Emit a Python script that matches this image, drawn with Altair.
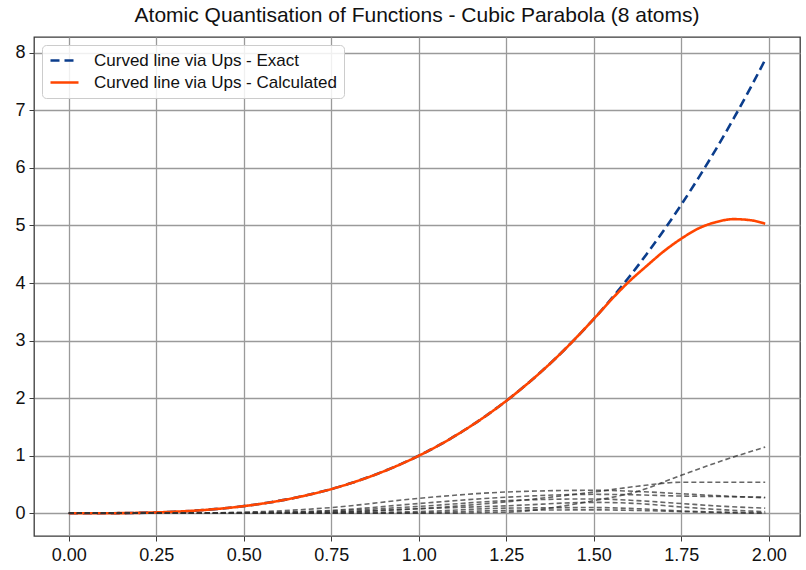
import altair as alt
import pandas as pd

# Main curves, sampled on x
x_main = [0.0, 0.1, 0.2, 0.3, 0.4, 0.5, 0.6, 0.7, 0.8, 0.9, 1.0, 1.1, 1.2, 1.3,
          1.4, 1.5, 1.55, 1.6, 1.65, 1.7, 1.75, 1.8, 1.85, 1.9, 1.95, 1.99]
exact = [0.0, 0.001, 0.008, 0.027, 0.064, 0.125, 0.216, 0.343, 0.512, 0.729, 1.0,
         1.331, 1.728, 2.197, 2.744, 3.375, 3.724, 4.096, 4.492, 4.913, 5.359,
         5.832, 6.332, 6.859, 7.415, 7.880]
calculated = [0.0, 0.001, 0.008, 0.027, 0.064, 0.125, 0.216, 0.343, 0.512, 0.729, 1.0,
              1.331, 1.728, 2.197, 2.744, 3.375, 3.71, 4.02, 4.29, 4.55, 4.77,
              4.95, 5.06, 5.11, 5.09, 5.03]

# Individual atoms, sampled on a coarser x grid
x_atoms = [0.0, 0.25, 0.5, 0.75, 1.0, 1.25, 1.5, 1.625, 1.75, 1.875, 1.99]
atoms = {
    "a1": [0, 0, 0, 0, 0, 0.02, 0.22, 0.38, 0.66, 0.93, 1.15],
    "a2": [0, 0, 0, 0.02, 0.08, 0.20, 0.37, 0.47, 0.54, 0.54, 0.54],
    "a3": [0, 0, 0.02, 0.10, 0.26, 0.37, 0.40, 0.38, 0.34, 0.30, 0.27],
    "a4": [0, 0, 0.01, 0.05, 0.17, 0.28, 0.33, 0.32, 0.30, 0.29, 0.28],
    "a5": [0, 0, 0.01, 0.04, 0.12, 0.22, 0.25, 0.22, 0.17, 0.12, 0.09],
    "a6": [0, 0, 0, 0.02, 0.08, 0.13, 0.19, 0.17, 0.11, 0.06, 0.03],
    "a7": [0, 0, 0, 0.01, 0.03, 0.09, 0.10, 0.08, 0.04, 0.02, 0.01],
    "a8": [0, 0, 0, 0, 0.01, 0.05, 0.06, 0.05, 0.03, 0.01, 0.0],
}

x_ticks = [0.0, 0.25, 0.5, 0.75, 1.0, 1.25, 1.5, 1.75, 2.0]
y_ticks = [0, 1, 2, 3, 4, 5, 6, 7, 8]

lbl_exact = "Curved line via Ups - Exact"
lbl_calc = "Curved line via Ups - Calculated"

main_df = pd.concat([
    pd.DataFrame({"x": x_main, "y": exact, "series": lbl_exact}),
    pd.DataFrame({"x": x_main, "y": calculated, "series": lbl_calc}),
])
atom_df = pd.concat([
    pd.DataFrame({"x": x_atoms, "y": v, "atom": k}) for k, v in atoms.items()
])

FONT = "Liberation Sans"

x_enc = alt.X("x:Q", scale=alt.Scale(domain=[-0.0995, 2.0895], nice=False, zero=False),
              axis=alt.Axis(values=x_ticks, format=".2f", title=None))
y_enc = alt.Y("y:Q", scale=alt.Scale(domain=[-0.394, 8.274], nice=False, zero=False),
              axis=alt.Axis(values=y_ticks, format="d", title=None))

# Legend line sample: a long horizontal stroke from a small symbol size
main = alt.Chart(main_df).mark_line(strokeWidth=2.6, interpolate="monotone").encode(
    x=x_enc,
    y=y_enc,
    color=alt.Color("series:N",
                    scale=alt.Scale(domain=[lbl_exact, lbl_calc], range=["#0b3d8c", "#ff4500"]),
                    legend=alt.Legend(title=None, orient="none", legendX=8, legendY=8,
                                      symbolType="M-1,0H3", symbolSize=196,
                                      symbolStrokeWidth=2.6, labelFontSize=17,
                                      labelFont=FONT, labelColor="#111", labelLimit=0,
                                      fillColor="rgba(255,255,255,0.85)",
                                      strokeColor="#cccccc", cornerRadius=4,
                                      padding=7, rowPadding=4, labelOffset=28)),
    strokeDash=alt.StrokeDash("series:N",
                              scale=alt.Scale(domain=[lbl_exact, lbl_calc],
                                              range=[[9, 5], [1, 0]]),
                              legend=None),
    order=alt.Order("series:N", sort="descending"),
)

atom_lines = alt.Chart(atom_df).mark_line(
    strokeWidth=1.6, strokeDash=[5, 3], color="#333333", opacity=0.75,
    interpolate="monotone"
).encode(x=x_enc, y=y_enc, detail="atom:N")

chart = alt.layer(main, atom_lines).properties(
    width=766,
    height=499,
    title=alt.Title("Atomic Quantisation of Functions - Cubic Parabola (8 atoms)",
                    fontSize=21, font=FONT, fontWeight="normal", color="#111", offset=11),
    autosize=alt.AutoSizeParams(type="none"),
    padding={"left": 34, "top": 37, "right": 6, "bottom": 34},
).configure_view(
    stroke="#3a3a3a", strokeWidth=1.3
).configure_axis(
    grid=True, gridColor="#9a9a9a", gridWidth=1.3, domain=False,
    tickColor="#3a3a3a", tickSize=5, tickWidth=1,
    labelFont=FONT, labelFontSize=18, labelColor="#111", labelPadding=4,
).configure_axisX(
    labelPadding=5
)

chart.save("out.html", embed_options={"renderer": "svg", "actions": False})
